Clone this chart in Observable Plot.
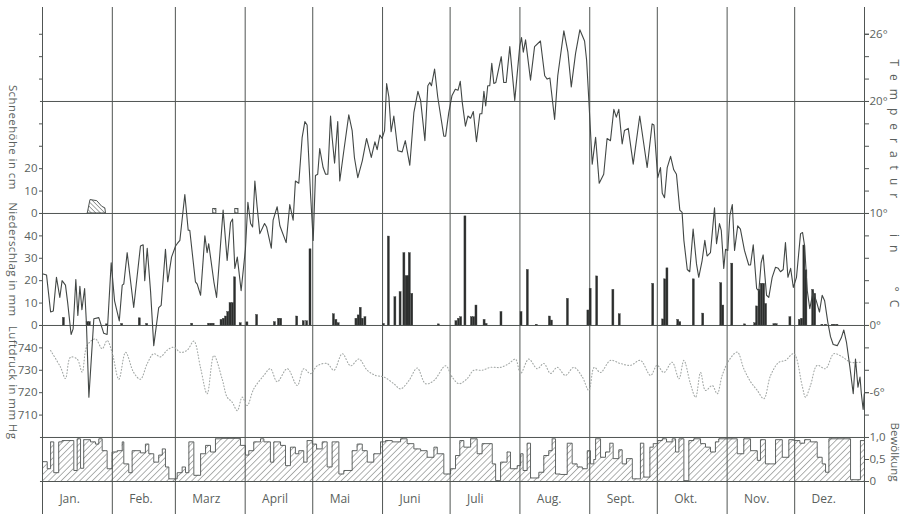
<!DOCTYPE html>
<html>
<head>
<meta charset="utf-8">
<script src="https://cdn.jsdelivr.net/npm/d3@7"></script>
<script src="https://cdn.jsdelivr.net/npm/@observablehq/plot@0.6"></script>
<style>
  body { margin: 0; background: #fff; }
  #chart svg { display: block; }
</style>
</head>
<body>
<div id="chart"></div>
<script>
// Month boundaries (day of year) and names
const monthStarts = [0, 31, 59, 90, 120, 151, 181, 212, 243, 273, 304, 334];
const monthNames = ["Jan.", "Feb.", "Marz", "April", "Mai", "Juni", "Juli", "Aug.", "Sept.", "Okt.", "Nov.", "Dez."];

// Daily mean temperature, °C (day of year, value)
const tempDay = [0.3,1.8,3.6,4.8,6.2,7.7,8.7,10.2,11.2,12.7,13.6,14.8,15.7,16.6,17.5,18.7,19.5,20.6,22.8,25.0,27.2,28.7,30.5,32.0,34.1,35.4,36.1,37.6,40.5,43.5,44.7,45.4,46.5,48.0,49.4,51.6,52.7,54.6,55.6,57.3,59.1,59.8,61.0,63.2,64.7,65.4,67.9,68.7,70.2,72.1,73.1,73.8,76.1,77.3,80.2,82.0,83.5,84.4,85.4,86.5,88.2,90.1,91.2,92.4,93.3,94.3,95.3,96.5,98.6,99.5,101.6,102.4,104.2,105.4,108.2,109.8,111.3,112.3,113.8,115.3,116.5,117.5,119.0,120.2,121.2,122.2,123.1,124.6,125.7,126.7,127.9,128.6,129.7,131.1,132.0,133.8,136.0,137.5,138.5,140.0,142.0,143.9,146.0,147.6,148.6,149.8,150.8,151.9,152.8,153.8,154.8,156.0,157.8,159.7,161.1,163.1,164.9,166.7,167.9,169.8,171.1,172.0,172.7,174.1,175.5,178.2,179.0,180.4,181.8,183.3,184.5,185.5,186.4,187.8,188.9,190.1,191.3,192.7,194.2,195.1,196.0,196.8,197.7,198.6,199.5,200.4,201.3,203.7,204.8,205.9,207.5,209.7,211.9,212.7,213.5,214.5,216.7,218.5,221.1,223.0,224.1,225.3,227.4,228.8,231.5,233.3,234.8,236.7,238.6,240.7,241.6,242.6,244.1,245.6,247.2,249.2,250.7,252.2,253.7,254.8,255.9,257.4,258.4,260.1,262.3,265.2,267.0,268.5,270.7,271.5,273.2,274.4,275.2,276.2,277.4,278.9,280.3,281.5,283.0,284.0,284.8,286.3,287.4,288.9,290.4,291.4,292.9,294.1,295.1,296.6,298.4,299.3,300.6,301.4,302.5,303.3,304.3,305.2,306.3,307.3,308.7,309.9,311.7,313.6,314.4,315.6,317.1,318.1,319.1,320.0,321.5,322.5,324.0,325.5,326.7,327.7,328.9,329.9,331.0,332.2,333.4,334.8,336.6,337.5,338.4,339.6,340.7,342.2,343.6,345.0,346.2,347.3,348.7,349.9,351.1,352.9,354.7,355.8,357.0,358.5,360.0,361.0,362.1,363.0,363.6,364.4,364.9];
const tempC = [4.6,4.5,1.2,1.3,4.3,2.5,4.0,3.6,2.0,-0.8,-0.3,4.1,0.9,3.5,1.4,3.3,0.2,-6.4,0.6,0.7,-0.7,-0.8,5.6,2.2,0.4,3.6,3.7,6.5,1.6,7.1,7.2,4.0,6.9,3.0,-1.8,1.6,1.8,6.8,3.9,6.1,7.1,7.3,7.6,11.7,8.5,8.5,3.9,3.7,2.7,8.0,6.5,7.3,3.9,2.5,10.3,5.8,9.2,9.5,5.1,6.1,3.1,6.8,11.0,9.1,8.8,12.9,10.6,8.2,9.1,8.8,6.9,9.4,10.6,8.9,7.4,10.8,9.4,12.9,12.7,16.8,18.2,17.9,11.8,7.6,13.4,13.5,15.8,14.1,13.5,13.5,18.7,16.8,14.5,18.2,12.9,15.6,18.8,17.4,15.0,13.2,14.7,16.7,15.0,16.4,15.7,17.0,16.7,17.4,21.6,20.4,17.3,18.7,15.6,15.5,16.5,14.3,19.0,20.9,20.1,16.5,21.4,21.7,21.4,22.9,20.4,16.9,16.9,19.0,20.5,21.1,21.0,21.8,19.9,17.8,18.7,18.5,19.1,16.4,18.9,18.9,20.9,19.6,21.4,21.4,23.4,21.6,21.7,24.0,21.7,21.7,24.9,20.1,24.9,25.7,24.4,25.5,21.9,24.9,25.4,22.3,22.0,22.1,18.4,22.3,26.3,24.4,21.3,24.3,26.4,25.4,23.7,20.1,14.4,16.8,12.7,13.5,16.7,16.5,19.3,18.6,19.3,16.2,17.4,17.6,14.4,18.7,16.2,14.1,18.0,17.9,13.2,14.1,11.8,11.4,14.1,15.1,13.9,13.5,10.3,10.1,7.6,5.0,4.8,8.6,5.5,4.3,5.8,7.6,6.2,6.5,10.5,7.3,9.1,8.5,5.1,6.8,6.7,9.8,10.8,6.7,8.9,8.6,6.7,5.4,5.4,7.2,3.3,3.1,5.6,6.3,2.7,2.5,4.3,5.2,5.1,4.8,5.0,7.4,4.3,5.1,3.4,4.3,8.2,8.3,7.1,3.1,1.5,3.0,2.2,1.2,2.7,2.2,0.3,-1.0,-1.7,-1.8,-1.1,-0.4,-1.5,-3.7,-6.1,-3.0,-5.5,-4.6,-6.1,-7.5,-6.1];

// Daily precipitation, mm
const precDay = [9.5,20,21,28.7,35.4,43.2,46.5,66.5,74,75,76,79.5,80.5,81.5,82.5,83.5,84.5,85.5,88,91,95.3,103.2,105,106,113.1,116,117.5,119,129.4,130.5,131.5,139.4,140.4,141.3,142.2,143.4,151.6,153.8,156.7,159,160.7,161.7,162.5,163.1,164.2,176,183.8,184.9,185.9,187.8,190.7,191.7,192.7,196.3,197.2,203.8,212.7,215.5,219.5,225.3,226.2,233.3,242.4,243.4,246.3,253.5,256.3,271.2,275.6,276.5,277.5,282.3,283.2,289.2,293.4,301.4,302.3,306.3,312,316.5,317.3,318.4,319.4,320.4,321.3,325,326,332.1,336.3,337.3,338.3,339.2,342.2,343.1,346.3,348,351,352,353];
const precMm = [3.4,1.5,1.5,0.5,0.7,3.2,0.7,0.8,0.8,0.8,0.8,2.5,3,4,6,10,10,21.5,1,1.4,4.7,1.5,3,3,4,1.9,1.9,34,5,2.5,1,3,4.5,7.9,3,3.7,0.7,39.7,12.6,14.9,32.3,22,22,32.3,14.1,0.5,1.9,3,3.7,48.7,3.7,3.7,8.9,2.5,0.7,6,6,24.8,0.3,4,2.2,11.9,6.7,16.4,21.9,15.9,5,18.6,2.7,20.6,25.5,2.5,1.5,20.6,5.3,18.9,8.9,27.6,0.5,1,8.5,15.9,18.6,18.6,9.6,0.6,0.6,3.7,2.5,3,35.7,24.6,15.9,14.1,0.3,0.3,0.3,0.3,0.3];

// Snow depth, cm
const snowDay = [20.1, 21.3, 24.3, 26.5, 27.9, 28.2];
const snowCm = [0, 6, 5.5, 3, 2.3, 0];
const snowPatchDay = [76.5, 86.3];
const snowPatchCm = [2, 2];

// Air pressure, mm Hg
const presDay = [3.6,8,10.2,12.4,15.4,17.6,19.8,23.5,26.5,28.7,30.9,33.9,36.9,40.5,43.5,46.5,49.4,52.4,55.4,58.3,61.3,64.3,67.2,70.2,73.1,76.1,79.8,82,84.2,86.5,88.7,90.9,93.8,98.3,101.2,104.2,108.7,113.1,116,119,122,126.4,129.4,133.1,136.8,140.5,144.2,147.9,151.6,156,159,162.7,166.4,170.1,173.8,179,181.9,184.9,188.6,191.5,195.2,198.9,203.4,207.1,210,212.3,215.9,219.7,222.6,225.6,228.6,232.2,235.9,239.7,242.6,245,247.8,252.2,256.7,261.1,265.5,270,272.9,275.9,279.6,282.6,284.8,287.7,290,292.2,294.4,297.4,299.6,301.8,304.8,308.5,311.4,314.4,317.4,320.3,323.3,327,329.9,333.6,337.3,338.8,341,344,347.7,351.4,355.1,358.8,363.2];
const presMm = [738.8,731.4,726.3,735.8,735,729.2,741,744,739.6,743.3,738,726,738,729,726,733,737.4,736,739,740.3,738,739,743,731,719.5,736.6,726,718,715.8,712,718,714.3,721.7,727.7,730.7,724.9,730.7,723.2,730.7,728.5,732,733,730,737.4,732,735,730,727.7,727,724,721.7,725.4,731,724,725.4,732,727,724,726.3,730,730,731.3,731.3,733,735,728.6,735,730.7,733,728.6,731.3,727.7,731.3,727,721,731.3,729,734.4,733,732.2,734.4,727.7,732.2,729,733.6,726.2,734.4,724,718,729,721,723.2,719.5,727.7,734.4,738.1,730.7,724.9,721,717.3,727.7,733.6,734.4,737.4,723.2,718,723.2,732.2,730.7,737.4,736,733.6,733.6];

// Cloud cover (fraction of sky), step values starting at the given day
const cloudStart = [0,2.1,3.6,5.0,7.2,8.7,13.9,15.4,16.9,18.3,21.3,23.5,25.0,26.5,28.7,30.9,33.2,35.4,36.1,38.3,39.8,43.5,45.7,47.2,49.4,51.6,53.2,54.6,56.1,59.8,62.0,63.5,65.0,67.2,70.2,72.4,74.6,76.8,79.8,87.9,90.1,91.6,93.8,96.8,98.3,101.2,102.7,105.7,107.9,110.1,112.3,113.8,116.0,117.5,119.8,121.7,124.2,126.4,128.6,131.6,133.8,137.5,139.7,142.0,144.2,147.1,150.1,152.3,155.3,159.0,161.9,164.9,167.9,170.8,173.8,175.3,178.2,181.2,183.4,185.3,187.1,190.1,193.0,195.2,199.7,201.2,203.4,206.3,207.8,210.8,212.3,213.4,215.2,216.7,220.4,222.6,224.8,226.3,227.8,230.0,233.0,235.2,237.4,239.7,241.9,243.3,244.8,245.6,247.8,250.0,251.9,253.4,255.9,257.4,259.3,261.9,265.5,267.0,269.7,271.2,273.2,275.2,277.1,279.6,281.1,282.6,284.8,287.0,289.2,292.2,294.4,296.6,298.8,300.3,308.5,311.4,314.4,317.4,318.8,321.0,325.5,328.5,331.4,333.6,336.3,338.4,341.0,344.0,346.2,347.7,349.2,358.8,363.2];
const cloudFrac = [0.45,0.29,0.9,0.2,0.9,0.93,0.25,0.97,0.3,0.95,0.9,0.85,0.97,0.7,0.29,0.67,0.7,0.9,0.4,0.2,0.7,0.65,0.85,0.63,0.44,0.6,0.74,0.33,0.06,0.2,0.33,0.2,0.9,0.14,0.63,0.82,0.67,0.97,0.98,0.82,0.6,0.7,0.9,0.97,0.9,0.44,0.9,0.82,0.36,0.78,0.63,0.7,0.44,0.93,0.85,0.74,0.9,0.33,0.9,0.17,0.25,0.7,0.85,0.7,0.44,0.63,0.9,0.93,0.9,0.97,0.86,0.74,0.7,0.55,0.78,0.63,0.17,0.29,0.59,0.93,0.78,0.97,0.63,0.86,0.4,0.02,0.44,0.67,0.29,0.36,0.63,0.25,0.87,0.08,0.21,0.59,0.7,0.97,0.17,0.16,0.87,0.4,0.33,0.29,0.7,0.4,0.5,0.97,0.55,0.67,0.87,0.52,0.72,0.4,0.52,0.06,0.87,0.1,0.78,0.86,0.93,0.97,0.9,0.97,0.67,0.97,0.02,0.93,0.97,0.86,0.78,0.67,0.9,0.97,0.63,0.97,0.7,0.48,0.95,0.4,0.95,0.55,0.95,0.93,0.87,0.95,0.9,0.55,0.4,0.21,0.97,0.04,0.93];

// Axis tick values
const snowTicks = [0, 10, 20];
const precTicks = [0, 10, 20, 30, 40];
const presTicks = [710, 720, 730, 740];
const tempTicksLabelled = [26, 20, 10, 0, -6];
const cloudTicks = [0, 0.5, 1];

// All panels share one vertical scale expressed in °C;
// the other quantities are mapped onto it.
const snowToT = cm => 10 + cm * 0.2;
const precToT = mm => mm * 0.2;
const presToT = p => (p - 750) * 0.2;
const cloudToT = c => -13.93 + c * 3.93;

const temps = tempDay.map((d, i) => ({day: d, t: tempC[i]}));
const precs = precDay.map((d, i) => ({day: d, mm: precMm[i]}));
const snow = snowDay.map((d, i) => ({day: d, cm: snowCm[i]}));
const snowPatches = snowPatchDay.map((d, i) => ({day: d, cm: snowPatchCm[i]}));
const pres = presDay.map((d, i) => ({day: d, p: presMm[i]}));
const clouds = cloudStart.map((d, i) => ({day: d, c: cloudFrac[i]}));
clouds.push({day: 365, c: cloudFrac[cloudFrac.length - 1]});

const ink = "#505553";
const textInk = "#5a5f5d";
const yTop = 28.39;
const yBottom = -17;
const fs = 11.5;

const chart = Plot.plot({
  width: 903,
  height: 514,
  marginLeft: 42,
  marginRight: 39,
  marginTop: 7,
  marginBottom: 33,
  x: {domain: [0, 365], axis: null},
  y: {domain: [cloudToT(0), yTop]},
  style: {fontFamily: "'Open Sans', sans-serif", fontSize: "11.5px", color: textInk, background: "#fff", overflow: "visible"},
  marks: [
    // cloud cover histogram
    Plot.areaY(clouds, {x: "day", y1: () => cloudToT(0), y2: d => cloudToT(d.c), curve: "step-after", fill: "url(#hatchCloud)"}),
    Plot.lineY(clouds, {x: "day", y: d => cloudToT(d.c), curve: "step-after", stroke: ink, strokeWidth: 0.9}),

    // frame: horizontal panel lines, month lines and side axes
    Plot.ruleY([20, 10, 0, cloudToT(1), cloudToT(0)], {x1: () => -0.9, x2: () => 365.5, stroke: ink, strokeWidth: 1}),
    Plot.ruleX(monthStarts.concat([365]), {y1: () => yBottom, y2: () => yTop, stroke: ink, strokeWidth: 1}),

    // air pressure (dotted)
    Plot.line(pres, {x: "day", y: d => presToT(d.p), stroke: "#a3a8a6", strokeWidth: 1.1, strokeDasharray: "0.9,2.2", curve: "catmull-rom"}),

    // precipitation bars
    Plot.rect(precs, {x1: d => d.day - 0.45, x2: d => d.day + 0.45, y1: () => 0, y2: d => precToT(d.mm), fill: "#2b2d2c", stroke: "#3a3d3c", strokeWidth: 0.4}),

    // snow depth
    Plot.areaY(snow, {x: "day", y1: () => snowToT(0), y2: d => snowToT(d.cm), fill: "url(#hatchSnow)", stroke: ink, strokeWidth: 1}),
    Plot.rect(snowPatches, {x1: d => d.day - 0.7, x2: d => d.day + 0.7, y1: () => snowToT(0), y2: d => snowToT(d.cm), fill: "url(#hatchSnow)", stroke: ink, strokeWidth: 1}),

    // temperature
    Plot.line(temps, {x: "day", y: "t", stroke: "#424745", strokeWidth: 1.1}),

    // left axis: snow, precipitation, pressure
    Plot.axisY([16, 18, 22, 24, 26], {anchor: "left", tickSize: 3, tickFormat: () => "", stroke: ink, label: null}),
    Plot.axisY(snowTicks.map(snowToT), {anchor: "left", tickSize: 3, tickPadding: 2, tickFormat: t => String(Math.round((t - 10) / 0.2)), stroke: ink, fill: textInk, fontSize: fs, label: null}),
    Plot.axisY(precTicks.map(precToT), {anchor: "left", tickSize: 3, tickPadding: 2, tickFormat: t => String(Math.round(t / 0.2)), stroke: ink, fill: textInk, fontSize: fs, label: null}),
    Plot.axisY(presTicks.map(presToT), {anchor: "left", tickSize: 3, tickPadding: 2, tickFormat: t => String(Math.round(t / 0.2 + 750)), stroke: ink, fill: textInk, fontSize: fs, label: null}),

    // right axis: temperature and cloud cover
    Plot.axisY(d3.range(-8, 27, 2), {anchor: "right", tickSize: 4, tickFormat: () => "", stroke: ink, label: null}),
    Plot.axisY(tempTicksLabelled, {anchor: "right", tickSize: 4, tickPadding: 1, tickFormat: t => t + "°", stroke: ink, fill: textInk, fontSize: fs, label: null}),
    Plot.axisY(cloudTicks.map(cloudToT), {anchor: "right", tickSize: 4, tickPadding: 1, tickFormat: t => {
      const c = Math.round((t + 13.93) / 3.93 * 10) / 10;
      return c === 0 ? "0" : c.toFixed(1).replace(".", ",");
    }, stroke: ink, fill: textInk, fontSize: fs, label: null}),

    // month names
    Plot.text(monthStarts, {x: d => d + 7.5, y: () => -15.5, text: (d, i) => monthNames[i], textAnchor: "start", fill: textInk, fontSize: 12}),

    // left titles
    Plot.text(["Schneehöhe in cm"], {frameAnchor: "left", dx: -30, y: () => 16.8, text: d => d, rotate: 90, textAnchor: "middle", fill: textInk, fontSize: 11.5}),
    Plot.text(["Niederschlag in mm"], {frameAnchor: "left", dx: -30, y: () => 5.9, text: d => d, rotate: 90, textAnchor: "middle", fill: textInk, fontSize: 11.5}),
    Plot.text(["Luftdruck in mm Hg"], {frameAnchor: "left", dx: -30, y: () => -5.1, text: d => d, rotate: 90, textAnchor: "middle", fill: textInk, fontSize: 11.5}),

    // right titles
    Plot.text(["Temperatur"], {frameAnchor: "right", dx: 29, y: () => 17.2, text: d => d, rotate: 90, textAnchor: "middle", fill: textInk, fontSize: 12}),
    Plot.text(["in"], {frameAnchor: "right", dx: 29, y: () => 7.0, text: d => d, rotate: 90, textAnchor: "middle", fill: textInk, fontSize: 12}),
    Plot.text(["°C"], {frameAnchor: "right", dx: 29, y: () => 2.2, text: d => d, rotate: 90, textAnchor: "middle", fill: textInk, fontSize: 12}),
    Plot.text(["Bewölkung"], {frameAnchor: "right", dx: 30, y: () => -11.3, text: d => d, rotate: 90, textAnchor: "middle", fill: textInk, fontSize: 11.5})
  ]
});

// hatch patterns for snow and cloud areas
d3.select(chart).insert("defs", ":first-child").html(`
  <pattern id="hatchCloud" patternUnits="userSpaceOnUse" width="4.4" height="4.4" patternTransform="rotate(45)">
    <rect width="4.4" height="4.4" fill="#fff"/>
    <line x1="0" y1="0" x2="0" y2="4.4" stroke="#5f6462" stroke-width="1"/>
  </pattern>
  <pattern id="hatchSnow" patternUnits="userSpaceOnUse" width="3.2" height="3.2" patternTransform="rotate(-45)">
    <rect width="3.2" height="3.2" fill="#fff"/>
    <line x1="0" y1="0" x2="0" y2="3.2" stroke="#4a4f4d" stroke-width="1"/>
  </pattern>`);

// spaced lettering for the rotated side titles
const svgSel = d3.select(chart);
svgSel.selectAll("text")
  .filter(function() { return ["Temperatur", "in", "°C"].includes(this.textContent) && (this.getAttribute("transform") || "").includes("rotate"); })
  .attr("letter-spacing", "8px");
svgSel.selectAll("text")
  .filter(function() { return ["Schneehöhe in cm", "Niederschlag in mm", "Luftdruck in mm Hg"].includes(this.textContent); })
  .attr("letter-spacing", "0.4px");

document.getElementById("chart").append(chart);
</script>
</body>
</html>
